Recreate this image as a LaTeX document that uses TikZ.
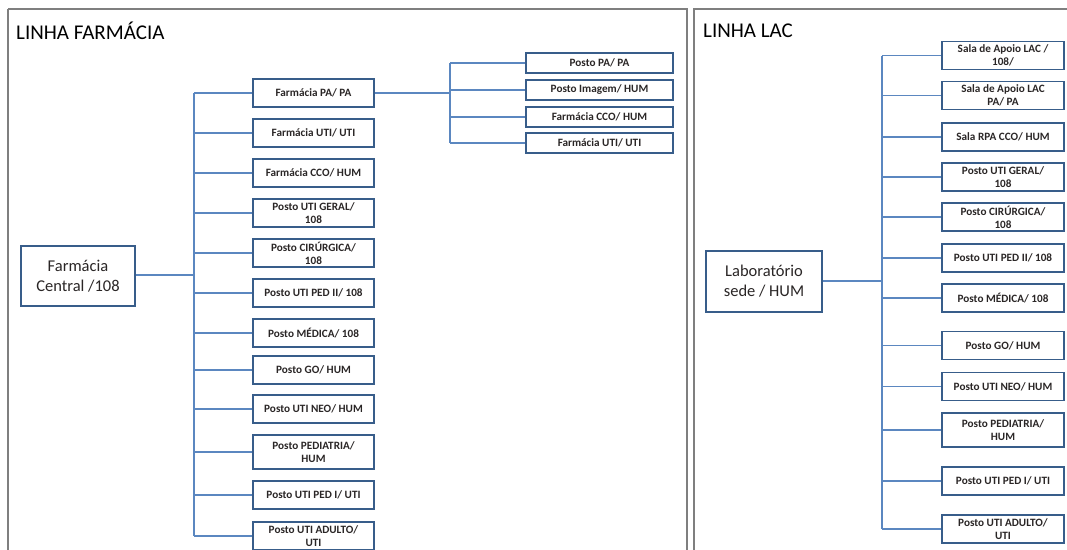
\documentclass[tikz,border=0pt]{standalone}
\usepackage{fontspec}
\setmainfont{Carlito}
\definecolor{boxline}{HTML}{385D8A}
\definecolor{connline}{HTML}{5B87C0}
\definecolor{txt}{HTML}{2A2626}
\definecolor{panel}{HTML}{7F7F7F}
\begin{document}
\begin{tikzpicture}[x=1pt,y=-1pt,
  box/.style={draw=boxline,line width=1.6pt,fill=white,inner sep=0pt,align=center,text=txt},
  cbox/.style={box,minimum width=121pt,minimum height=28pt,font=\fontsize{11.2}{13}\selectfont\bfseries},
  sbox/.style={box,minimum width=147pt,minimum height=20pt,font=\fontsize{11.2}{13}\selectfont\bfseries},
  rbox/.style={box,minimum width=122pt,minimum height=28pt,font=\fontsize{11.2}{13}\selectfont\bfseries},
  bigbox/.style={box,font=\fontsize{16.5}{20}\selectfont},
  conn/.style={draw=connline,line width=1.1pt},
  title/.style={anchor=west,inner sep=0pt,font=\fontsize{21}{24}\selectfont,text=black},
  frame/.style={draw=panel,line width=1.6pt}]
\useasboundingbox (0,0) rectangle (1067,549);
\clip (0,0) rectangle (1067,549);
\fill[white] (0,0) rectangle (1067,549);
% panels
\draw[frame] (8,9) -- (687,9) -- (687,560);
\draw[frame] (8,560) -- (8,9);
\draw[frame] (1080,9) -- (694,9) -- (694,560);
\node[title] (t1) at (16,31) {LINHA FARMÁCIA};
\node[title] (t2) at (703,31) {LINHA LAC};
% left tree
\node[bigbox,minimum width=114pt,minimum height=60pt] (fc) at (78,276) {Farmácia\\Central /108};
\node[cbox] (a1) at (313.5,93) {Farmácia PA/ PA};
\node[cbox] (a2) at (313.5,133) {Farmácia UTI/ UTI};
\node[cbox] (a3) at (313.5,173) {Farmácia CCO/ HUM};
\node[cbox] (a4) at (313.5,213) {Posto UTI GERAL/\\108};
\node[cbox] (a5) at (313.5,253) {Posto CIRÚRGICA/\\108};
\node[cbox] (a6) at (313.5,293) {Posto UTI PED II/ 108};
\node[cbox] (a7) at (313.5,333) {Posto MÉDICA/ 108};
\node[cbox] (a8) at (313.5,370) {Posto GO/ HUM};
\node[cbox] (a9) at (313.5,409) {Posto UTI NEO/ HUM};
\node[cbox,minimum height=34pt] (a10) at (313.5,452) {Posto PEDIATRIA/\\HUM};
\node[cbox] (a11) at (313.5,495) {Posto UTI PED I/ UTI};
\node[cbox] (a12) at (313.5,536) {Posto UTI ADULTO/\\UTI};
\coordinate (ta) at (194,275);
\draw[conn] (fc.east |- ta) -- (ta);
\draw[conn] (ta |- a1.west) -- (ta |- a12.west);
\foreach \i in {1,...,12} {\draw[conn] (ta |- a\i.west) -- (a\i.west);}
% second level
\node[sbox] (b1) at (599.5,63) {Posto PA/ PA};
\node[sbox] (b2) at (599.5,90) {Posto Imagem/ HUM};
\node[sbox] (b3) at (599.5,117) {Farmácia CCO/ HUM};
\node[sbox] (b4) at (599.5,143) {Farmácia UTI/ UTI};
\coordinate (tb) at (450,93);
\draw[conn] (a1.east) -- (tb);
\draw[conn] (tb |- b1.west) -- (tb |- b4.west);
\foreach \i in {1,...,4} {\draw[conn] (tb |- b\i.west) -- (b\i.west);}
% right tree
\node[bigbox,minimum width=116pt,minimum height=61pt] (lab) at (764,281.5) {Laboratório\\sede / HUM};
\node[rbox] (c1) at (1003,55.5) {Sala de Apoio LAC /\\108/};
\node[rbox] (c2) at (1003,95.5) {Sala de Apoio LAC\\PA/ PA};
\node[rbox] (c3) at (1003,137) {Sala RPA CCO/ HUM};
\node[rbox] (c4) at (1003,177) {Posto UTI GERAL/\\108};
\node[rbox] (c5) at (1003,217) {Posto CIRÚRGICA/\\108};
\node[rbox] (c6) at (1003,258) {Posto UTI PED II/ 108};
\node[rbox] (c7) at (1003,298) {Posto MÉDICA/ 108};
\node[rbox] (c8) at (1003,345.5) {Posto GO/ HUM};
\node[rbox] (c9) at (1003,386.5) {Posto UTI NEO/ HUM};
\node[rbox,minimum height=34pt] (c10) at (1003,430) {Posto PEDIATRIA/\\HUM};
\node[rbox] (c11) at (1003,481) {Posto UTI PED I/ UTI};
\node[rbox] (c12) at (1003,529) {Posto UTI ADULTO/\\UTI};
\coordinate (tc) at (882,281);
\draw[conn] (lab.east |- tc) -- (tc);
\draw[conn] (tc |- c1.west) -- (tc |- c12.west);
\foreach \i in {1,...,12} {\draw[conn] (tc |- c\i.west) -- (c\i.west);}
\end{tikzpicture}
\end{document}
